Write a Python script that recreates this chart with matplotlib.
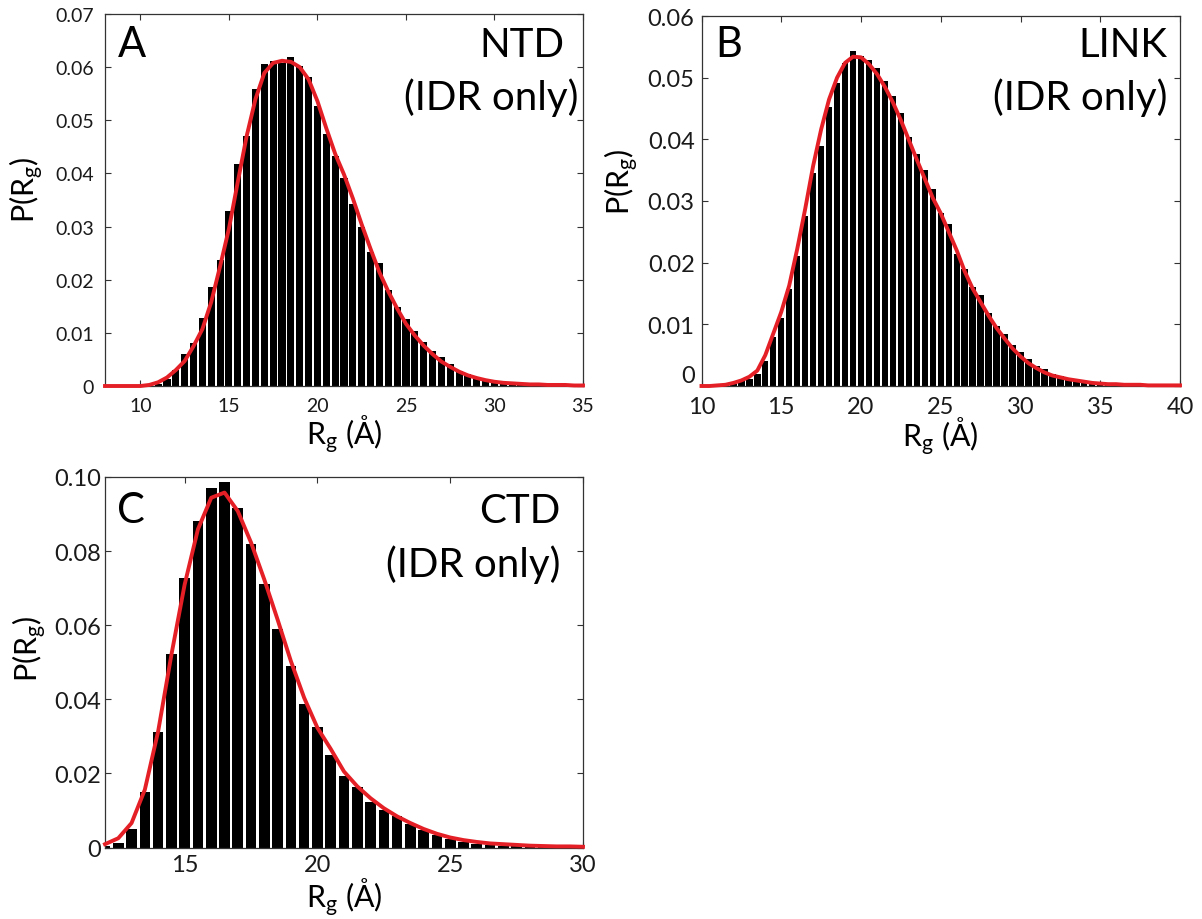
import numpy as np
import matplotlib
matplotlib.use("Agg")
import matplotlib.pyplot as plt
from matplotlib.ticker import FuncFormatter

plt.rcParams['font.family'] = ['Lato', 'DejaVu Sans']
plt.rcParams['mathtext.fontset'] = 'custom'
plt.rcParams['mathtext.rm'] = 'Lato'
plt.rcParams['mathtext.it'] = 'Lato:italic'
plt.rcParams['mathtext.bf'] = 'Lato:bold'

# ---------------- NTD (IDR only) ----------------
ntd_bin_centers = [11.0, 11.5, 12.0, 12.5, 13.0, 13.5, 14.0, 14.5, 15.0, 15.5,
                   16.0, 16.5, 17.0, 17.5, 18.0, 18.5, 19.0, 19.5, 20.0, 20.5,
                   21.0, 21.5, 22.0, 22.5, 23.0, 23.5, 24.0, 24.5, 25.0, 25.5,
                   26.0, 26.5, 27.0, 27.5, 28.0, 28.5, 29.0, 29.5, 30.0, 30.5,
                   31.0, 31.5, 32.0]
ntd_hist = [0.0004, 0.0013, 0.0030, 0.0060, 0.0080, 0.0128, 0.0187, 0.0238, 0.0330, 0.0417,
            0.0470, 0.0559, 0.0605, 0.0611, 0.0608, 0.0619, 0.0602, 0.0582, 0.0526, 0.0474,
            0.0432, 0.0392, 0.0342, 0.0299, 0.0252, 0.0231, 0.0181, 0.0149, 0.0126, 0.0104,
            0.0082, 0.0066, 0.0054, 0.0041, 0.0028, 0.0022, 0.0016, 0.0011, 0.0008, 0.0005,
            0.0003, 0.0002, 0.0001]
ntd_fit_x = [8.0, 8.5, 9.0, 9.5, 10.0, 10.5, 11.0, 11.5, 12.0, 12.5,
             13.0, 13.5, 14.0, 14.5, 15.0, 15.5, 16.0, 16.5, 17.0, 17.5,
             18.0, 18.5, 19.0, 19.5, 20.0, 20.5, 21.0, 21.5, 22.0, 22.5,
             23.0, 23.5, 24.0, 24.5, 25.0, 25.5, 26.0, 26.5, 27.0, 27.5,
             28.0, 28.5, 29.0, 29.5, 30.0, 30.5, 31.0, 31.5, 32.0, 32.5,
             33.0, 33.5, 34.0, 34.5, 35.0]
ntd_fit = [0.0, 0.0, 0.0, 0.0, 0.0, 0.0002, 0.0007, 0.0016, 0.0030, 0.0047,
           0.0075, 0.0107, 0.0158, 0.0225, 0.0296, 0.0384, 0.0470, 0.0540, 0.0589, 0.0608,
           0.0612, 0.0610, 0.0600, 0.0577, 0.0536, 0.0485, 0.0437, 0.0398, 0.0353, 0.0304,
           0.0258, 0.0214, 0.0178, 0.0146, 0.0117, 0.0095, 0.0076, 0.0060, 0.0046, 0.0036,
           0.0027, 0.0020, 0.0015, 0.0011, 0.0008, 0.0006, 0.0005, 0.0004, 0.0003, 0.0003,
           0.0002, 0.0002, 0.0002, 0.0001, 0.0001]

# ---------------- LINK (IDR only) ----------------
link_bin_centers = [11.5, 12.0, 12.5, 13.0, 13.5, 14.0, 14.5, 15.0, 15.5, 16.0,
                    16.5, 17.0, 17.5, 18.0, 18.5, 19.0, 19.5, 20.0, 20.5, 21.0,
                    21.5, 22.0, 22.5, 23.0, 23.5, 24.0, 24.5, 25.0, 25.5, 26.0,
                    26.5, 27.0, 27.5, 28.0, 28.5, 29.0, 29.5, 30.0, 30.5, 31.0,
                    31.5, 32.0, 32.5, 33.0, 33.5, 34.0, 34.5, 35.0, 35.5, 36.0]
link_hist = [0.0002, 0.0004, 0.0008, 0.0011, 0.0020, 0.0040, 0.0079, 0.0110, 0.0157, 0.0211,
             0.0276, 0.0346, 0.0389, 0.0453, 0.0492, 0.0524, 0.0544, 0.0535, 0.0528, 0.0516,
             0.0494, 0.0471, 0.0443, 0.0403, 0.0376, 0.0351, 0.0319, 0.0280, 0.0263, 0.0214,
             0.0190, 0.0160, 0.0147, 0.0119, 0.0098, 0.0085, 0.0067, 0.0055, 0.0044, 0.0033,
             0.0027, 0.0020, 0.0016, 0.0012, 0.0009, 0.0006, 0.0005, 0.0003, 0.0002, 0.0001]
link_fit_x = [10.0, 10.5, 11.0, 11.5, 12.0, 12.5, 13.0, 13.5, 14.0, 14.5,
              15.0, 15.5, 16.0, 16.5, 17.0, 17.5, 18.0, 18.5, 19.0, 19.5,
              20.0, 20.5, 21.0, 21.5, 22.0, 22.5, 23.0, 23.5, 24.0, 24.5,
              25.0, 25.5, 26.0, 26.5, 27.0, 27.5, 28.0, 28.5, 29.0, 29.5,
              30.0, 30.5, 31.0, 31.5, 32.0, 32.5, 33.0, 33.5, 34.0, 34.5,
              35.0, 35.5, 36.0, 36.5, 37.0, 37.5, 38.0, 38.5, 39.0, 39.5,
              40.0]
link_fit = [0.0, 0.0, 0.0001, 0.0002, 0.0005, 0.0009, 0.0015, 0.0025, 0.0050, 0.0085,
            0.0120, 0.0163, 0.0222, 0.0287, 0.0357, 0.0416, 0.0465, 0.0500, 0.0524, 0.0534,
            0.0533, 0.0522, 0.0506, 0.0485, 0.0460, 0.0431, 0.0399, 0.0367, 0.0336, 0.0305,
            0.0280, 0.0250, 0.0220, 0.0186, 0.0158, 0.0136, 0.0114, 0.0094, 0.0077, 0.0061,
            0.0048, 0.0037, 0.0029, 0.0022, 0.0017, 0.0014, 0.0011, 0.0009, 0.0007, 0.0005,
            0.0004, 0.0003, 0.0003, 0.0002, 0.0002, 0.0002, 0.0001, 0.0001, 0.0001, 0.0001,
            0.0001]

# ---------------- CTD (IDR only) ----------------
ctd_bin_centers = [12.0, 12.5, 13.0, 13.5, 14.0, 14.5, 15.0, 15.5, 16.0, 16.5,
                   17.0, 17.5, 18.0, 18.5, 19.0, 19.5, 20.0, 20.5, 21.0, 21.5,
                   22.0, 22.5, 23.0, 23.5, 24.0, 24.5, 25.0, 25.5, 26.0, 26.5,
                   27.0, 27.5, 28.0, 28.5]
ctd_hist = [0.0003, 0.0013, 0.0050, 0.0150, 0.0313, 0.0523, 0.0728, 0.0881, 0.0969, 0.0986,
            0.0917, 0.0820, 0.0710, 0.0591, 0.0489, 0.0386, 0.0324, 0.0249, 0.0192, 0.0162,
            0.0122, 0.0102, 0.0084, 0.0063, 0.0048, 0.0034, 0.0023, 0.0016, 0.0010, 0.0007,
            0.0005, 0.0003, 0.0002, 0.0001]
ctd_fit_x = [12.0, 12.5, 13.0, 13.5, 14.0, 14.5, 15.0, 15.5, 16.0, 16.5,
             17.0, 17.5, 18.0, 18.5, 19.0, 19.5, 20.0, 20.5, 21.0, 21.5,
             22.0, 22.5, 23.0, 23.5, 24.0, 24.5, 25.0, 25.5, 26.0, 26.5,
             27.0, 27.5, 28.0, 28.5, 29.0, 29.5, 30.0]
ctd_fit = [0.0009, 0.0025, 0.0066, 0.0156, 0.0313, 0.0520, 0.0710, 0.0859, 0.0944, 0.0958,
           0.0908, 0.0823, 0.0723, 0.0615, 0.0503, 0.0404, 0.0323, 0.0266, 0.0205, 0.0165,
           0.0133, 0.0106, 0.0084, 0.0066, 0.0050, 0.0037, 0.0027, 0.0020, 0.0015, 0.0011,
           0.0009, 0.0007, 0.0005, 0.0004, 0.0003, 0.0003, 0.0002]

BIN_W = 0.5
BAR_FRAC = 0.8
RED = '#e41f26'
W, H = 1202, 920

fig = plt.figure(figsize=(W / 100, H / 100), dpi=100)


def px_axes(left, top, right, bottom):
    return fig.add_axes([left / W, 1 - bottom / H, (right - left) / W, (bottom - top) / H])


def fmt(v, _):
    return '0' if abs(v) < 1e-12 else f'{v:.2f}'


def panel(ax, centers, hist, fx, fy, xlim, ylim, yticks, xticks, letter, name,
          tick_fs, xpad, ypad, txt_pos, ylab_pos, xlab_y):
    ax.bar(centers, hist, width=BIN_W * BAR_FRAC, color='black', linewidth=0, zorder=2)
    ax.plot(fx, fy, color=RED, lw=2.8, zorder=4, clip_on=False, solid_joinstyle='round')
    ax.set_xlim(*xlim)
    ax.set_ylim(*ylim)
    ax.set_yticks(yticks)
    ax.set_xticks(xticks)
    ax.yaxis.set_major_formatter(FuncFormatter(fmt))
    ax.tick_params(direction='in', top=True, right=True, length=4, width=0.8,
                   colors='#333333', labelcolor='#1a1a1a', labelsize=tick_fs)
    ax.tick_params(axis='x', pad=xpad)
    ax.tick_params(axis='y', pad=ypad)
    for s in ax.spines.values():
        s.set_linewidth(0.9)
        s.set_color('#333333')
        s.set_zorder(3)
    ax.set_ylabel(r'P($\mathregular{R_g}$)', fontsize=22)
    ax.set_xlabel(r'$\mathregular{R_g}$ (Å)', fontsize=22, va='top')
    ax.yaxis.set_label_coords(ylab_pos[0], ylab_pos[1])
    ax.xaxis.set_label_coords(0.5, xlab_y)
    (lx, ly), (nx, ny), (ix, iy) = txt_pos
    ax.text(lx, ly, letter, transform=ax.transAxes, fontsize=30, ha='left', va='baseline')
    ax.text(nx, ny, name, transform=ax.transAxes, fontsize=29, ha='right', va='baseline')
    ax.text(ix, iy, '(IDR only)', transform=ax.transAxes, fontsize=29, ha='right', va='baseline')


axA = px_axes(105, 15, 583, 387)
panel(axA, ntd_bin_centers, ntd_hist, ntd_fit_x, ntd_fit, (8, 35), (0, 0.07),
      np.arange(0, 0.0701, 0.01), [10, 15, 20, 25, 30, 35], 'A', 'NTD',
      14, 8, 8, ((0.027, 0.887), (0.962, 0.887), (0.99, 0.745)),
      (-0.123, 0.53), -0.072)

axB = px_axes(701.5, 17, 1180, 387)
panel(axB, link_bin_centers, link_hist, link_fit_x, link_fit, (10, 40), (0, 0.06),
      np.arange(0, 0.0601, 0.01), [10, 15, 20, 25, 30, 35, 40], 'B', 'LINK',
      17, 7, 5, ((0.028, 0.892), (0.973, 0.892), (0.973, 0.749)),
      (-0.127, 0.554), -0.078)
# lift the zero label a touch so it clears the first x tick label
axB.get_yticklabels()[0].set_verticalalignment('bottom')

axC = px_axes(105, 478, 583, 848.5)
panel(axC, ctd_bin_centers, ctd_hist, ctd_fit_x, ctd_fit, (12, 30), (0, 0.10),
      np.arange(0, 0.1001, 0.02), [15, 20, 25, 30], 'C', 'CTD',
      17, 5, 3, ((0.025, 0.879), (0.952, 0.879), (0.952, 0.733)),
      (-0.118, 0.538), -0.076)

fig.savefig('out.png', dpi=100)
